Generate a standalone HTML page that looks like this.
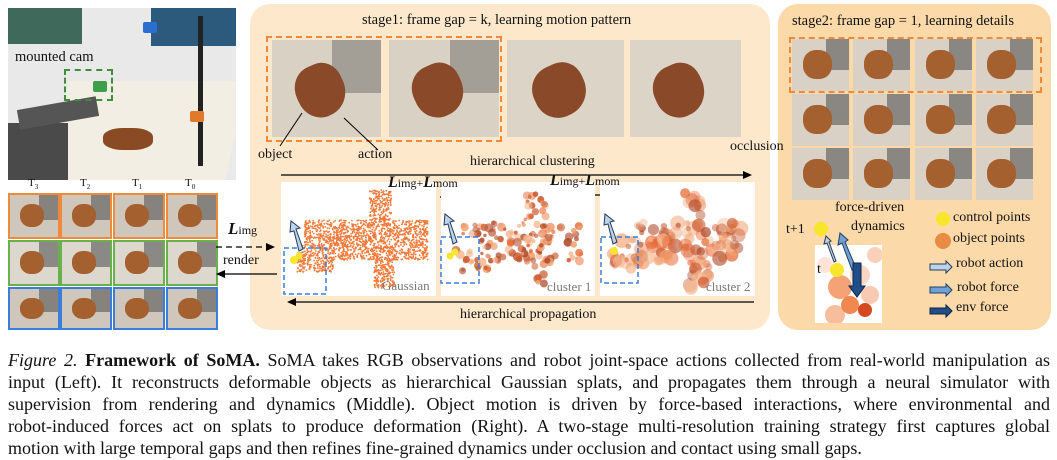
<!DOCTYPE html>
<html><head><meta charset="utf-8">
<style>
body{margin:0;width:1057px;height:460px;background:#fff;position:relative;overflow:hidden;font-family:"Liberation Serif",serif;color:#111}
.a{position:absolute}
.t{position:absolute;font-size:14px;white-space:nowrap;z-index:5}
.ph{position:absolute;background:#d8d1c4;overflow:hidden}
.ph:after{content:"";position:absolute;left:22%;top:25%;width:45%;height:55%;background:#8a4a2a;border-radius:45% 40% 50% 45%;transform:rotate(-25deg)}
.ph.g:before{content:"";position:absolute;right:0;top:0;width:45%;height:55%;background:#8d8a84;opacity:.7}
.th{position:absolute;width:47px;height:42px;box-sizing:border-box;background:#cfc7bb;overflow:hidden}
.th:after{content:"";position:absolute;left:20%;top:22%;width:50%;height:55%;background:#a5602f;border-radius:45%}
.th:before{content:"";position:absolute;right:0;top:0;width:40%;height:60%;background:#555;opacity:.6}
.cap{position:absolute;left:8px;width:1042px;font-size:18px;line-height:22px;text-align:justify;text-align-last:justify;white-space:nowrap}
</style></head><body>

<!-- left photo -->
<div class="a" style="left:8px;top:8px;width:228px;height:172px;background:#e9e9ea;overflow:hidden">
 <div class="a" style="left:0;top:0;width:74px;height:36px;background:#3f6a5b"></div>
 <div class="a" style="left:143px;top:0;width:85px;height:38px;background:#2c5a7c"></div>
 <div class="a" style="left:50px;top:73px;width:178px;height:99px;background:#f2eee4;transform:skewX(-12deg)"></div>
 <div class="a" style="left:0;top:115px;width:60px;height:57px;background:#4a4a4a"></div>
 <div class="a" style="left:95px;top:120px;width:50px;height:22px;background:#8a4a24;border-radius:40%"></div>
 <div class="a" style="left:10px;top:95px;width:80px;height:20px;background:#555;transform:rotate(-10deg)"></div>
 <div class="a" style="left:190px;top:8px;width:5px;height:150px;background:#222"></div>
 <div class="a" style="left:56px;top:61px;width:49px;height:32px;border:2px dashed #3e8e3a;box-sizing:border-box"></div>
 <div class="a" style="left:135px;top:14px;width:14px;height:11px;background:#2a6fd0;border-radius:2px"></div>
 <div class="a" style="left:85px;top:73px;width:14px;height:11px;background:#3ca04a;border-radius:2px"></div>
 <div class="a" style="left:182px;top:103px;width:14px;height:11px;background:#e07a2a;border-radius:2px"></div>
 <div class="t" style="left:7px;top:41px;font-size:14.5px">mounted cam</div>
</div>

<div class="t" style="left:28px;top:177px;font-size:11px">T<sub style="font-size:7px">3</sub></div>
<div class="t" style="left:80px;top:177px;font-size:11px">T<sub style="font-size:7px">2</sub></div>
<div class="t" style="left:132px;top:177px;font-size:11px">T<sub style="font-size:7px">1</sub></div>
<div class="t" style="left:185px;top:177px;font-size:11px">T<sub style="font-size:7px">0</sub></div>
<div id="thumbs"></div>

<!-- middle panel -->
<div class="a" style="left:250px;top:4px;width:520px;height:326px;background:#fde8cc;border-radius:20px"></div>
<div class="t" style="left:362px;top:12px;font-size:14.5px">stage1: frame gap = k, learning motion pattern</div>
<div class="a" style="left:266px;top:36px;width:236px;height:106px;border:2px dashed #ef8a3c;box-sizing:border-box"></div>
<div class="ph g" style="left:272px;top:40px;width:109px;height:97px"></div>
<div class="ph g" style="left:389px;top:40px;width:110px;height:97px"></div>
<div class="ph" style="left:507px;top:40px;width:117px;height:97px;background:#ddd4c8"></div>
<div class="ph" style="left:630px;top:40px;width:111px;height:97px;background:#ddd4c8"></div>

<!-- right panel -->
<div class="a" style="left:778px;top:4px;width:273px;height:326px;background:#fcd9a8;border-radius:20px"></div>

<svg class="a" style="left:0;top:0" width="1057" height="330">
 <line x1="302" y1="113" x2="280" y2="146" stroke="#000" stroke-width="1"/>
 <line x1="344" y1="118" x2="378" y2="150" stroke="#000" stroke-width="1"/>
 <line x1="281" y1="175" x2="745" y2="175" stroke="#000" stroke-width="1.3"/>
 <polygon points="752,175 743,171 743,179" fill="#000"/>
 <line x1="292" y1="302" x2="754" y2="302" stroke="#000" stroke-width="1.3"/>
 <polygon points="287,302 296,298 296,306" fill="#000"/>
 <line x1="216" y1="247" x2="268" y2="247" stroke="#000" stroke-width="1.3" stroke-dasharray="6,4"/>
 <polygon points="275,247 266,243 266,251" fill="#000"/>
 <line x1="224" y1="274" x2="277" y2="274" stroke="#000" stroke-width="1.3"/>
 <polygon points="216,274 225,270 225,278" fill="#000"/>
 <line x1="400" y1="197" x2="453" y2="197" stroke="#000" stroke-width="1.3" stroke-dasharray="6,4"/>
 <polygon points="460,197 451,193 451,201" fill="#000"/>
 <line x1="565" y1="195" x2="616" y2="195" stroke="#000" stroke-width="1.3" stroke-dasharray="6,4"/>
 <polygon points="622,195 613,191 613,199" fill="#000"/>
</svg>
<div class="t" style="left:258px;top:147px">object</div>
<div class="t" style="left:358px;top:147px">action</div>
<div class="t" style="left:470px;top:154px">hierarchical clustering</div>
<div class="t" style="left:730px;top:139px">occlusion</div>
<div class="t" style="left:460px;top:307px">hierarchical propagation</div>

<svg class="a" id="pc" style="left:0;top:0" width="1057" height="330"></svg>

<div class="t" style="left:388px;top:176px;font-size:12px;line-height:14px"><b style="font-size:16px"><i>L</i></b>img+<b style="font-size:16px"><i>L</i></b>mom</div>
<div class="t" style="left:550px;top:174px;font-size:12px;line-height:14px"><b style="font-size:16px"><i>L</i></b>img+<b style="font-size:16px"><i>L</i></b>mom</div>
<div class="t" style="left:228px;top:219px;font-size:12px"><b style="font-size:17px"><i>L</i></b>img</div>
<div class="t" style="left:223px;top:253px">render</div>

<div class="t" style="left:382px;top:278px;color:#777;font-size:13px">Gaussian</div>
<div class="t" style="left:547px;top:279px;color:#777;font-size:13px">cluster 1</div>
<div class="t" style="left:706px;top:279px;color:#777;font-size:13px">cluster 2</div>

<div class="t" style="left:792px;top:13px;font-size:14.5px">stage2: frame gap = 1, learning details</div>
<div id="grid2"></div>
<div class="a" style="left:789px;top:37px;width:253px;height:56px;border:2px dashed #ef8a3c;box-sizing:border-box"></div>
<div class="a" style="left:815px;top:245px;width:67px;height:78px;background:#fff;overflow:hidden">
 <svg width="67" height="78"><g fill="#ef7b3c">
 <circle cx="25" cy="42" r="12" opacity=".7"/><circle cx="45" cy="30" r="10" opacity=".3"/><circle cx="55" cy="50" r="9" opacity=".4"/>
 <circle cx="35" cy="60" r="9" opacity=".9"/><circle cx="50" cy="65" r="7" fill="#d64a20"/><circle cx="20" cy="70" r="10" opacity=".5"/><circle cx="60" cy="10" r="8" opacity=".35"/><circle cx="10" cy="20" r="8" opacity=".2"/></g></svg>
</div>
<svg class="a" style="left:0;top:0" width="1057" height="330">
 <circle cx="821" cy="229" r="7" fill="#f7e62c"/>
 <circle cx="837" cy="270" r="7" fill="#f7e62c"/>
 <polygon points="834,262 827,243 824,244 826,236 831,241 829,242 836,261" fill="#bcd3ec" stroke="#2a3a55" stroke-width="1"/>
 <polygon points="852,270 842,243 838,245 840,233 848,240 845,242 856,268" fill="#6fa0d6" stroke="#1f3f66" stroke-width="1"/>
 <polygon points="853,263 861,263 861,286 865,286 857,297 849,286 853,286" fill="#1f4f8a" stroke="#0d2340" stroke-width="1"/>
 <circle cx="943" cy="219" r="7" fill="#f7e62c"/>
 <circle cx="943" cy="241" r="8" fill="#e98b43"/>
 <polygon points="930,264 946,264 946,261 952,267 946,273 946,270 930,270" fill="#bcd3ec" stroke="#2a3a55"/>
 <polygon points="930,287 946,287 946,284 952,290 946,296 946,293 930,293" fill="#6fa0d6" stroke="#1f3f66"/>
 <polygon points="930,308 946,308 946,305 952,311 946,317 946,314 930,314" fill="#1f4f8a" stroke="#0d2340"/>
</svg>
<div class="t" style="left:835px;top:200px">force-driven</div>
<div class="t" style="left:851px;top:219px">dynamics</div>
<div class="t" style="left:786px;top:222px">t+1</div>
<div class="t" style="left:817px;top:262px">t</div>
<div class="t" style="left:953px;top:210px">control points</div>
<div class="t" style="left:953px;top:231px">object points</div>
<div class="t" style="left:956px;top:256px">robot action</div>
<div class="t" style="left:957px;top:280px">robot force</div>
<div class="t" style="left:956px;top:300px">env force</div>

<!-- caption -->
<div class="cap" style="top:349px"><i>Figure 2.</i> <b>Framework of SoMA.</b> SoMA takes RGB observations and robot joint-space actions collected from real-world manipulation as</div>
<div class="cap" style="top:371px">input (Left). It reconstructs deformable objects as hierarchical Gaussian splats, and propagates them through a neural simulator with</div>
<div class="cap" style="top:393px">supervision from rendering and dynamics (Middle). Object motion is driven by force-based interactions, where environmental and</div>
<div class="cap" style="top:415px">robot-induced forces act on splats to produce deformation (Right). A two-stage multi-resolution training strategy first captures global</div>
<div class="cap" style="top:437px;text-align-last:left">motion with large temporal gaps and then refines fine-grained dynamics under occlusion and contact using small gaps.</div>

<script>
(function(){
var h='',cols=[8,60,113,166],rows=[193,240,287],bc=['#ef8a3c','#6ab04c','#3b7dd8'];
for(var r=0;r<3;r++)for(var c=0;c<4;c++)h+='<div class="th" style="left:'+cols[c]+'px;top:'+rows[r]+'px;border:2px solid '+bc[r]+';height:'+(r==2?43:46)+'px;width:52px'+(r==1?';background:#ddd8ce':'')+'"></div>';
document.getElementById('thumbs').innerHTML=h;
h='';var c2=[792,853,915,976],r2=[39,94,148];
for(r=0;r<3;r++)for(c=0;c<4;c++)h+='<div class="th" style="left:'+c2[c]+'px;top:'+r2[r]+'px;width:57px;height:52px;background:#d9d1c5"></div>';
document.getElementById('grid2').innerHTML=h;
var s=1234;function rnd(){s=(s*16807)%2147483647;return s/2147483647;}
var svg='';
function box(x,y,w,h){svg+='<rect x="'+x+'" y="'+y+'" width="'+w+'" height="'+h+'" fill="#fff"/>';}
box(281,182,155,114);box(441,182,154,114);box(600,182,155,114);
function inShape(u,v){
 if(u>0.55&&u<0.7&&v<0.3)return true;
 if(u>0.1&&u<0.95&&v>0.3&&v<0.7)return true;
 if(u>0.05&&u<0.3&&v>0.55&&v<0.82)return true;
 if(u>0.58&&u<0.72&&v>0.65&&v<0.98)return true;
 return false;}
var i,u,v;
for(i=0;i<4500;i++){u=rnd();v=rnd();if(!inShape(u,v))continue;svg+='<circle cx="'+(290+u*145).toFixed(1)+'" cy="'+(190+v*100).toFixed(1)+'" r="0.9" fill="#f07a3a"/>';}
var pal=['#f0a070','#e86a35','#c8552a','#f5b890','#b04a2a'];
for(i=0;i<400;i++){u=rnd();v=rnd();if(!inShape(u,v))continue;svg+='<circle cx="'+(448+u*140).toFixed(1)+'" cy="'+(192+v*100).toFixed(1)+'" r="'+(1.5+rnd()*3).toFixed(1)+'" fill="'+pal[Math.floor(rnd()*5)]+'" opacity="'+(0.5+rnd()*0.4).toFixed(2)+'"/>';}
for(i=0;i<260;i++){u=rnd();v=rnd();if(!inShape(u,v))continue;svg+='<circle cx="'+(605+u*145).toFixed(1)+'" cy="'+(192+v*100).toFixed(1)+'" r="'+(2.5+rnd()*5).toFixed(1)+'" fill="'+pal[Math.floor(rnd()*5)]+'" opacity="'+(0.35+rnd()*0.4).toFixed(2)+'"/>';}
[[284,248,42,46],[441,237,38,46],[601,237,37,46]].forEach(function(b){svg+='<rect x="'+b[0]+'" y="'+b[1]+'" width="'+b[2]+'" height="'+b[3]+'" fill="none" stroke="#3b7dd8" stroke-width="1.5" stroke-dasharray="5,3"/>';});
svg+='<circle cx="294" cy="260" r="4" fill="#f7e62c"/><circle cx="299" cy="256" r="3.5" fill="#f7e62c"/>';
svg+='<circle cx="450" cy="256" r="3.5" fill="#f7e62c"/><circle cx="455" cy="252" r="3.5" fill="#f7e62c"/>';
svg+='<circle cx="614" cy="251" r="4" fill="#f7e62c"/>';
function arr(x,y){svg+='<polygon points="'+(x)+','+(y)+' '+(x-5)+','+(y-20)+' '+(x-9)+','+(y-19)+' '+(x-8)+','+(y-30)+' '+(x+1)+','+(y-23)+' '+(x-3)+','+(y-22)+' '+(x+4)+','+(y-2)+'" fill="#bcd3ec" stroke="#2a3a55" stroke-width="1"/>';}
arr(299,251);arr(453,244);arr(613,244);
document.getElementById('pc').innerHTML=svg;
})();
</script>
</body></html>
